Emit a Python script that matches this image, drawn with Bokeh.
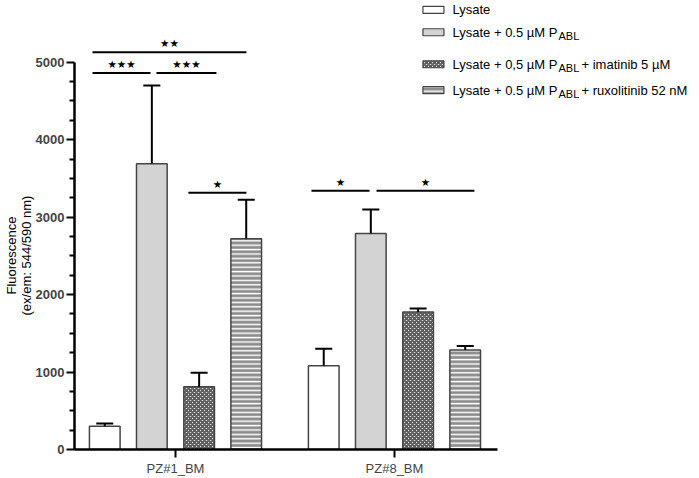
from bokeh.plotting import figure
from bokeh.models import ColumnDataSource, Range1d, FixedTicker, Whisker, TeeHead, Title
from bokeh.core.properties import value
from bokeh.embed import file_html
from bokeh.resources import INLINE

# ---------------- data ----------------
groups = ["PZ#1_BM", "PZ#8_BM"]
series_main = ["Lysate", "Lysate + 0.5 µM P", "Lysate + 0,5 µM P", "Lysate + 0.5 µM P"]
series_sub = ["", "ABL", "ABL", "ABL"]
series_suffix = ["", "", "+ imatinib 5 µM", "+ ruxolitinib 52 nM"]
y_title_lines = ["Fluorescence", "(ex/em: 544/590 nm)"]

lysate = [300, 1080]
lysate_sd = [35, 220]
pabl = [3690, 2790]
pabl_sd = [1010, 310]
imatinib = [810, 1775]
imatinib_sd = [180, 45]
ruxolitinib = [2720, 1285]
ruxolitinib_sd = [505, 50]

y_ticks = [0, 1000, 2000, 3000, 4000, 5000]
y_minor = [v for v in range(0, 5001, 250) if v % 1000]

# significance brackets (x in group units, y in data units)
bracket_x0 = [-0.379, -0.379, -0.087, 0.059, 0.621, 0.918]
bracket_x1 = [0.324, -0.114, 0.187, 0.324, 0.886, 1.365]
bracket_y = [5130, 4860, 4860, 3316, 3342, 3342]
bracket_label = ["★★", "★★★", "★★★", "★", "★", "★"]

# ---------------- layout / style ----------------
FONT = "Liberation Sans"
offsets = [-0.323, -0.108, 0.108, 0.323]
BAR_W = 0.140
FRAME_LEFT = 74
X_LEFT, X_AXIS_END, X_RIGHT = (FRAME_LEFT - 175) / 219, 1.470, 2.393
Y_TOP = 5797

styles = [
    dict(fill_color="white"),
    dict(fill_color="#d3d3d3"),
    dict(fill_color="white", hatch_pattern="diagonal_cross", hatch_color="#5e5e5e",
         hatch_scale=4.0, hatch_weight=2.0),
    dict(fill_color="#8c8c8c", hatch_pattern="horizontal_line", hatch_color="white",
         hatch_scale=4.4, hatch_weight=1.5),
]

values = [lysate, pabl, imatinib, ruxolitinib]
sds = [lysate_sd, pabl_sd, imatinib_sd, ruxolitinib_sd]

p = figure(width=699, height=478, output_backend="svg", toolbar_location=None,
           x_range=Range1d(X_LEFT, X_RIGHT), y_range=Range1d(0, Y_TOP),
           min_border_left=FRAME_LEFT, min_border_right=0, min_border_top=0,
           min_border_bottom=0)
p.outline_line_color = None
p.grid.visible = False
p.background_fill_color = "white"
p.border_fill_color = "white"

for i, (vals, sd) in enumerate(zip(values, sds)):
    xs = [g + offsets[i] for g in range(len(groups))]
    src = ColumnDataSource(dict(x=xs, top=vals, hi=[v + s for v, s in zip(vals, sd)]))
    p.vbar(x="x", top="top", bottom=0, width=BAR_W, source=src,
           line_color="#444444", line_width=1.5, **styles[i])
    w = Whisker(base="x", lower="top", upper="hi", source=src, line_color="black",
                line_width=2, lower_head=None,
                upper_head=TeeHead(size=17, line_width=2, line_color="black"),
                level="annotation")
    p.add_layout(w)

# significance brackets
bsrc = ColumnDataSource(dict(x0=bracket_x0, x1=bracket_x1, y=bracket_y,
                             xm=[(a + b) / 2 for a, b in zip(bracket_x0, bracket_x1)],
                             lab=bracket_label))
p.segment(x0="x0", y0="y", x1="x1", y1="y", source=bsrc, line_color="black", line_width=2)
p.text(x="xm", y="y", text="lab", source=bsrc, text_align="center", text_baseline="middle",
       y_offset=-9, text_font=value("DejaVu Sans"), text_font_size="10.5px", text_color="black")

# legend (manual, to allow subscripts)
LEG_BOX_X, LEG_TEXT_X = 1.178, 1.265
legend_y = [5676, 5387, 4974, 4639]
for i in range(4):
    p.rect(x=[LEG_BOX_X], y=[legend_y[i]], width=21, height=7, width_units="screen",
           height_units="screen", line_color="#444444", line_width=1.2, **styles[i])
    p.text(x=[LEG_TEXT_X], y=[legend_y[i]], text=[series_main[i]], text_align="left",
           text_baseline="middle", text_font=value(FONT), text_font_size="13px",
           text_color="black")
    if series_sub[i]:
        p.text(x=[LEG_TEXT_X], y=[legend_y[i]], text=[series_sub[i]], text_align="left",
               text_baseline="middle", x_offset=106, y_offset=4, text_font=value(FONT),
               text_font_size="11px", text_color="black")
    if series_suffix[i]:
        p.text(x=[LEG_TEXT_X], y=[legend_y[i]], text=[series_suffix[i]], text_align="left",
               text_baseline="middle", x_offset=129, text_font=value(FONT),
               text_font_size="13px", text_color="black")

# axes
xa = p.xaxis[0]
xa.ticker = FixedTicker(ticks=list(range(len(groups))), minor_ticks=[])
xa.major_label_overrides = {i: g for i, g in enumerate(groups)}
xa.bounds = (X_LEFT, X_AXIS_END)
xa.axis_line_width = 2.5
xa.major_tick_line_width = 2
xa.major_tick_out = 8
xa.major_tick_in = 0
xa.minor_tick_out = 0
xa.minor_tick_in = 0
xa.major_label_text_font = FONT
xa.major_label_text_font_size = "13px"
xa.major_label_standoff = 3

ya = p.yaxis[0]
ya.ticker = FixedTicker(ticks=y_ticks, minor_ticks=y_minor)
ya.bounds = (0, 5000)
ya.axis_line_width = 2.5
ya.major_tick_line_width = 2
ya.minor_tick_line_width = 2
ya.major_tick_out = 8
ya.major_tick_in = 0
ya.minor_tick_out = 5
ya.minor_tick_in = 0
ya.major_label_text_font = FONT
ya.major_label_text_font_size = "13px"
ya.major_label_text_font_style = "bold"
ya.major_label_standoff = 2

# y-axis title: two left-side titles, centred on the axis span 0..5000 (y ~ 256 px)
title_offsets = [155, 134]   # pixels from the frame bottom to the start of each line
for line, off in reversed(list(zip(y_title_lines, title_offsets))):
    p.add_layout(Title(text=line, align="left", offset=off, standoff=-2,
                       text_font=FONT, text_font_size="13px", text_font_style="normal",
                       text_color="black"), "left")

open("out.html", "w").write(file_html(p, INLINE))
